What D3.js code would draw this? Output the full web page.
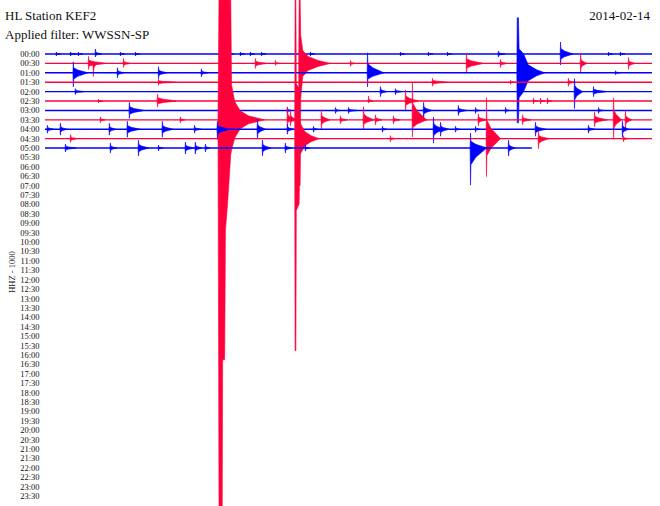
<!DOCTYPE html>
<html>
<head>
<meta charset="utf-8">
<script src="https://cdn.jsdelivr.net/npm/d3@7"></script>
<style>
  body { margin: 0; background: #fff; }
  text { font-family: "Liberation Serif", "DejaVu Serif", serif; fill: #111; }
</style>
</head>
<body>
<script>
// helicorder rows, one per 30 minutes
var rowLabels = ("00:00 00:30 01:00 01:30 02:00 02:30 03:00 03:30 04:00 04:30 05:00 05:30 " +
  "06:00 06:30 07:00 07:30 08:00 08:30 09:00 09:30 10:00 10:30 11:00 11:30 " +
  "12:00 12:30 13:00 13:30 14:00 14:30 15:00 15:30 16:00 16:30 17:00 17:30 " +
  "18:00 18:30 19:00 19:30 20:00 20:30 21:00 21:30 22:00 22:30 23:00 23:30").split(" ");

// how many minutes of each row were recorded
var rowMinutes = [30, 30, 30, 30, 30, 30, 30, 30, 30, 30, 24.06];

// small arrivals: [row, minute, amp up, amp down, duration (min)]
var events = [
  [0, 0.54, 2, 2, 0.2], [0, 1.24, 2, 2, 0.3], [0, 1.63, 2, 2, 0.2], [0, 2.47, 5, 3, 0.3],
  [0, 3.71, 2, 2, 0.2], [0, 4.45, 2, 2, 0.2], [0, 9.10, 2, 2, 0.2], [0, 9.64, 2, 2, 0.2],
  [0, 10.13, 2, 2, 0.2], [0, 10.68, 2, 2, 0.2], [0, 13.10, 2, 2, 0.2], [0, 17.55, 2, 2, 0.2],
  [0, 18.93, 2, 2, 0.2], [0, 19.87, 2, 2, 0.2], [0, 22.39, 3, 3, 0.3], [0, 25.46, 12, 11, 0.6],
  [0, 27.83, 2, 2, 0.2], [0, 28.42, 2, 2, 0.2],
  [1, 2.13, 7, 6, 0.8], [1, 2.37, 2, 13, 0.2], [1, 3.86, 5, 4, 0.3], [1, 10.38, 5, 5, 0.5],
  [1, 11.37, 3, 2, 0.2], [1, 15.08, 3, 3, 0.2], [1, 20.81, 10, 10, 0.8], [1, 22.49, 4, 4, 0.3],
  [1, 26.45, 10, 10, 0.3], [1, 28.82, 6, 6, 0.3],
  [2, 1.38, 11, 14, 0.7], [2, 3.56, 5, 5, 0.3], [2, 5.59, 6, 6, 0.4], [2, 7.71, 4, 4, 0.3],
  [2, 15.92, 20, 14, 0.8], [2, 28.18, 2, 2, 0.2],
  [3, 5.59, 3, 3, 0.8], [3, 19.13, 4, 4, 0.7], [3, 22.99, 2, 2, 0.2], [3, 25.85, 4, 4, 0.3],
  [4, 1.48, 3, 3, 0.4], [4, 16.56, 5, 5, 0.3], [4, 17.30, 3, 3, 0.3], [4, 26.15, 13, 17, 0.4],
  [4, 27.09, 5, 5, 0.6],
  [5, 2.62, 2, 2, 0.2], [5, 5.54, 7, 6, 0.9], [5, 15.97, 5, 2, 0.2], [5, 17.80, 11, 9, 0.6],
  [5, 24.12, 3, 3, 0.2], [5, 24.47, 3, 3, 0.2], [5, 24.81, 3, 3, 0.2],
  [6, 4.15, 8, 8, 0.7], [6, 11.96, 3, 3, 0.2], [6, 14.34, 3, 3, 0.2], [6, 14.98, 3, 3, 0.4],
  [6, 18.69, 8, 8, 0.4], [6, 20.41, 5, 5, 0.4], [6, 21.26, 3, 3, 0.2], [6, 22.74, 3, 3, 0.2],
  [6, 27.34, 3, 3, 0.2],
  [7, 2.72, 3, 3, 0.2], [7, 6.67, 3, 3, 0.2], [7, 11.96, 13, 6, 0.3], [7, 12.11, 10, 6, 0.3],
  [7, 13.64, 10, 10, 0.4], [7, 14.58, 4, 4, 0.3], [7, 15.72, 13, 10, 0.5], [7, 16.31, 5, 5, 0.3],
  [7, 17.20, 4, 4, 0.3], [7, 18.14, 37, 17, 0.7], [7, 21.40, 6, 6, 0.4], [7, 23.58, 5, 5, 0.4],
  [7, 27.14, 8, 7, 0.6], [7, 28.08, 22, 18, 0.4], [7, 28.67, 9, 9, 0.3],
  [8, 0.10, 4, 4, 0.3], [8, 0.74, 6, 6, 0.3], [8, 3.16, 6, 6, 0.3], [8, 4.05, 8, 8, 0.6],
  [8, 5.78, 8, 8, 0.5], [8, 7.37, 4, 4, 0.3], [8, 8.50, 8, 10, 0.6], [8, 10.48, 10, 10, 0.4],
  [8, 11.96, 5, 5, 0.3], [8, 13.25, 3, 3, 0.2], [8, 16.66, 3, 3, 0.2], [8, 19.18, 12, 14, 0.5],
  [8, 19.53, 7, 7, 0.4], [8, 20.27, 3, 3, 0.2], [8, 21.26, 3, 3, 0.2], [8, 24.22, 7, 7, 0.5],
  [8, 26.84, 4, 4, 0.3], [8, 28.52, 8, 8, 0.3],
  [9, 1.24, 4, 4, 0.3], [9, 17.05, 3, 3, 0.2], [9, 21.80, 41, 38, 0.7], [9, 24.37, 7, 10, 0.5],
  [9, 28.57, 3, 3, 0.2],
  [10, 0.99, 4, 4, 0.5], [10, 3.21, 5, 5, 0.3], [10, 4.60, 8, 8, 0.5], [10, 5.59, 3, 3, 0.2],
  [10, 6.92, 6, 6, 0.4], [10, 7.41, 6, 6, 0.3], [10, 7.91, 4, 4, 0.2], [10, 10.73, 8, 8, 0.4],
  [10, 11.86, 5, 5, 0.3], [10, 12.85, 3, 3, 0.2], [10, 21.01, 15, 37, 0.8], [10, 22.89, 8, 8, 0.3]
];

// large quakes, envelope as [minute, amp up, amp down]
var quakeA = { row: 7, env: [[8.55, 0, 0], [8.60, 125, 390], [8.76, 125, 390], [8.78, 125, 240],
  [8.88, 125, 240], [8.92, 125, 110], [9.02, 125, 85], [9.18, 125, 35], [9.22, 35, 30],
  [9.38, 18, 18], [9.65, 9, 9], [10.05, 4, 4], [10.55, 1.5, 1.5], [10.85, 0, 0]] };
var quakeB1 = { row: 1, env: [[12.54, 0, 0], [12.56, 64, 122], [12.61, 64, 122], [12.64, 28, 35],
  [12.74, 13, 13], [13.0, 7, 7], [13.5, 3, 3], [14.1, 0, 0]] };
var quakeB2 = { row: 9, env: [[12.34, 0, 0], [12.36, 139, 212], [12.40, 139, 212], [12.42, 55, 72],
  [12.56, 50, 65], [12.60, 16, 16], [12.85, 7, 7], [13.15, 3, 3], [13.55, 0, 0]] };
var quakeC = { row: 2, env: [[23.32, 0, 0], [23.34, 55, 50], [23.40, 55, 50], [23.43, 24, 25],
  [23.65, 19, 19], [23.88, 8, 8], [24.3, 3, 3], [24.7, 0, 0]] };
var quakes = [quakeA, quakeB1, quakeB2, quakeC];

var width = 660, height = 506;
var blue = "#0000ff", red = "#ff003c";

var svg = d3.select("body").append("svg")
    .attr("width", width)
    .attr("height", height);

var x = d3.scaleLinear().domain([0, 30]).range([45, 652]);
var y = d3.scalePoint().domain(rowLabels).range([54, 496]);
var amp = d3.scaleLinear().domain([0, 100]).range([0, 100]);

function rowColor(i) { return i % 2 == 0 ? blue : red; }

// spindle shape for a small arrival: sharp onset, short thin coda
function spindle(e) {
    var m = e[1], up = e[2], dn = e[3], dur = e[4];
    return [[m, 0, 0], [m + 0.02, up, dn], [m + 0.04, up * 0.45, dn * 0.45],
            [m + dur * 0.35, up * 0.25, dn * 0.25], [m + dur, 0.3, 0.3], [m + dur + 0.05, 0, 0]];
}

function envArea(row) {
    var base = y(rowLabels[row]);
    return d3.area()
        .x(function(d) { return x(d[0]); })
        .y0(function(d) { return base + amp(d[2]); })
        .y1(function(d) { return base - amp(d[1]); });
}

// draw row by row so later rows sit on top
rowMinutes.forEach(function(len, i) {
    var g = svg.append("g");
    var base = y(rowLabels[i]);
    g.append("line")
        .attr("x1", x(0)).attr("x2", x(len))
        .attr("y1", base).attr("y2", base)
        .attr("stroke", rowColor(i))
        .attr("stroke-width", 1.4);

    var area = envArea(i);
    g.selectAll("path.ev")
        .data(events.filter(function(e) { return e[0] == i; }))
        .enter().append("path")
        .attr("class", "ev")
        .attr("d", function(e) { return area(spindle(e)); })
        .attr("fill", rowColor(i))
        .attr("stroke", rowColor(i))
        .attr("stroke-width", 0.6);

    g.selectAll("path.quake")
        .data(quakes.filter(function(q) { return q.row == i; }))
        .enter().append("path")
        .attr("class", "quake")
        .attr("d", function(q) { return area(q.env); })
        .attr("fill", rowColor(i))
        .attr("stroke", rowColor(i))
        .attr("stroke-width", 0.6);
});

// row time labels
svg.append("g").selectAll("text")
    .data(rowLabels)
    .enter().append("text")
    .attr("x", 39.5)
    .attr("y", function(d) { return y(d) + 3; })
    .attr("text-anchor", "end")
    .style("font-size", "8.5px")
    .text(function(d) { return d; });

svg.append("text").attr("x", 5).attr("y", 20).style("font-size", "13px").text("HL Station KEF2");
svg.append("text").attr("x", 5).attr("y", 39).style("font-size", "13px").text("Applied filter: WWSSN-SP");
svg.append("text").attr("x", 650).attr("y", 20).attr("text-anchor", "end")
    .style("font-size", "13px").text("2014-02-14");

svg.append("text")
    .attr("transform", "translate(15,272) rotate(-90)")
    .attr("text-anchor", "middle")
    .style("font-size", "8.5px")
    .text("HHZ - 1000");
</script>
</body>
</html>
